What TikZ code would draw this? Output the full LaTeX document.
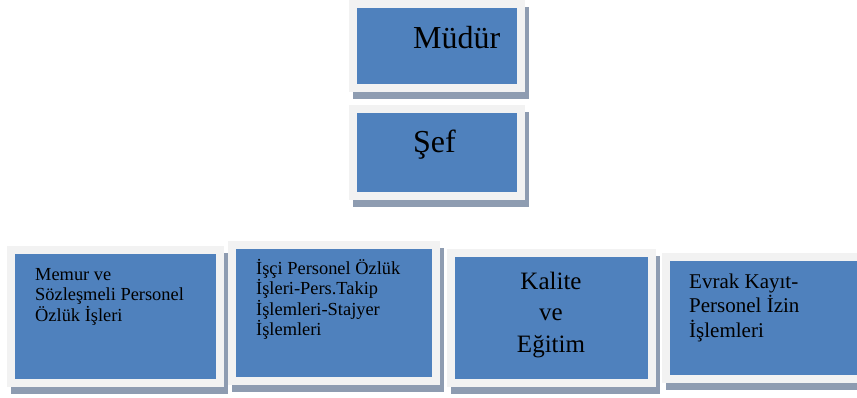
\documentclass[tikz,border=0pt]{standalone}
\usepackage{fontspec}
\setmainfont{Liberation Serif}
\definecolor{kutumavi}{RGB}{79,129,189}
\definecolor{cerceve}{RGB}{242,242,242}
\definecolor{golge}{RGB}{142,156,177}

\begin{document}
\begin{tikzpicture}[x=1pt, y=-1pt,
    birim/.style={rectangle, inner sep=0pt, fill=kutumavi, draw=cerceve, line width=8pt,
      preaction={draw=golge, fill=golge, transform canvas={xshift=4pt, yshift=-7pt}}},
    yazi/.style={inner sep=0pt, anchor=base west, align=left}]
      \useasboundingbox (0, 0) rectangle (857, 397);

      \node[birim, minimum width=168pt, minimum height=84pt] (mudur) at (437, 46) {};
      \node[birim, minimum width=168pt, minimum height=87pt] (sef) at (437, 152.5) {};
      \node[birim, minimum width=209pt, minimum height=133pt] (memur) at (115.5, 316.5) {};
      \node[birim, minimum width=204pt, minimum height=136pt] (isci) at (334, 313) {};
      \node[birim, minimum width=201pt, minimum height=130pt] (kalite) at (551.5, 318) {};
      \node[birim, minimum width=202pt, minimum height=122pt] (evrak) at (767, 318) {};

      \node[yazi, font=\rmfamily\fontsize{32pt}{38pt}\selectfont] (mudurmetin) at (413, 48) {Müdür};
      \node[yazi, font=\rmfamily\fontsize{32pt}{38pt}\selectfont] (sefmetin) at (413, 152) {Şef};
      \node[yazi, font=\rmfamily\fontsize{18.4pt}{20.5pt}\selectfont] (memurmetin) at (35, 321) {Memur ve\\Sözleşmeli Personel\\Özlük İşleri};
      \node[yazi, font=\rmfamily\fontsize{18.4pt}{20.5pt}\selectfont] (iscimetin) at (256, 335.5) {İşçi Personel Özlük\\İşleri-Pers.Takip\\İşlemleri-Stajyer\\İşlemleri};
      \node[yazi, anchor=base, align=center, font=\rmfamily\fontsize{25pt}{31.5pt}\selectfont] (kalitemetin) at (551, 352) {Kalite\\ve\\Eğitim};
      \node[yazi, font=\rmfamily\fontsize{21pt}{24.5pt}\selectfont] (evrakmetin) at (689, 337) {Evrak Kayıt-\\Personel İzin\\İşlemleri};
    \end{tikzpicture}
\end{document}
